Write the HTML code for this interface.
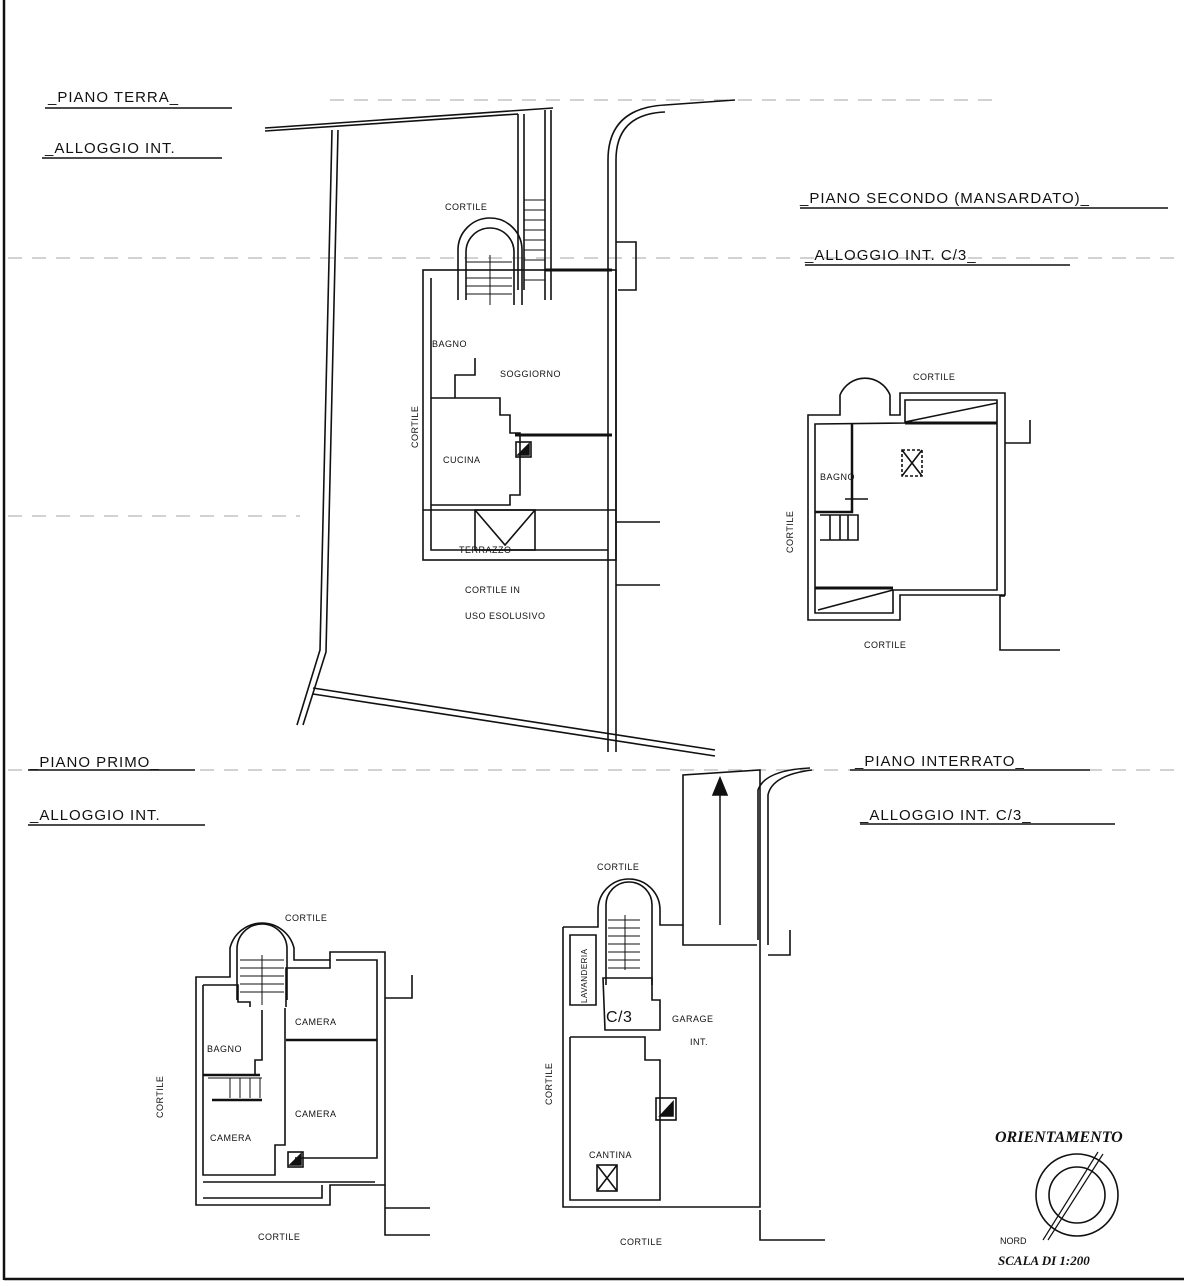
<!DOCTYPE html>
<html><head><meta charset="utf-8"><style>
html,body{margin:0;padding:0;background:#fff;}
svg{display:block;}
text{font-family:"Liberation Sans",sans-serif;fill:#111;}
.t{font-size:15px;letter-spacing:1px;}
.s{font-size:9px;letter-spacing:0.5px;}
.r{font-size:11px;letter-spacing:0.5px;}
</style></head><body>
<svg width="1184" height="1286" viewBox="0 0 1184 1286" xmlns="http://www.w3.org/2000/svg">
<g fill="none" stroke="#111" stroke-width="1.6">
<line x1="4" y1="0" x2="4" y2="1280" stroke-width="2.5"/>
<line x1="4" y1="1279" x2="1184" y2="1279" stroke-width="2.5"/>
<g stroke="#888" stroke-width="0.8" stroke-dasharray="14 10">
<line x1="8" y1="258" x2="1184" y2="258"/>
<line x1="8" y1="516" x2="300" y2="516"/>
<line x1="8" y1="770" x2="1184" y2="770"/>
<line x1="330" y1="100" x2="1000" y2="100"/>
</g>
<line x1="45" y1="108" x2="232" y2="108"/>
<line x1="42" y1="158" x2="222" y2="158"/>
<line x1="800" y1="208" x2="1168" y2="208"/>
<line x1="805" y1="265" x2="1070" y2="265"/>
<line x1="28" y1="770" x2="195" y2="770"/>
<line x1="28" y1="825" x2="205" y2="825"/>
<line x1="850" y1="770" x2="1090" y2="770"/>
<line x1="860" y1="824" x2="1115" y2="824"/>

<path d="M265 128 L553 108"/><path d="M265 131 L518 114"/>
<path d="M332 130 L320 650 L297 725"/><path d="M338 130 L326 652 L303 725"/>
<path d="M313 688 L715 750"/><path d="M313 694 L715 756"/>
<path d="M518 114 L518 290 M524 114 L524 290 M545 110 L545 300 M551 110 L551 300"/>
<path d="M608 752 L608 160 Q608 108 665 105 L735 100"/>
<path d="M616 752 L616 160 Q616 114 665 112"/>
<path d="M616 242 L636 242 L636 290 L618 290"/>
<path d="M616 522 L660 522 M616 585 L660 585"/>
<rect x="423" y="270" width="193" height="290"/>
<path d="M431 278 L431 550 L608 550"/>
<path d="M423 510 L616 510"/>
<path d="M431 398 L500 398 L500 415 L510 415 L510 433 L520 433 L520 495 L510 495 L510 505 L431 505"/>
<path d="M455 398 L455 375 L475 375 L475 358"/>
<path d="M515 435 L612 435" stroke-width="3"/>
<path d="M545 270 L612 270" stroke-width="3"/>
<rect x="475" y="510" width="60" height="40"/>
<path d="M475 510 L505 545 L535 510"/>
<rect x="516" y="442" width="15" height="15"/><path d="M518 455 L529 444 L529 455 Z" fill="#111"/>
<path d="M458 300 L458 250 A32 32 0 0 1 522 250 L522 305 M466 300 L466 252 A24 24 0 0 1 514 252 L514 305"/>
<g stroke-width="1"><path d="M466 262 H512 M466 270 H512 M466 278 H512 M466 286 H512 M466 294 H512 M490 255 V305"/>
<path d="M524 200 H545 M524 210 H545 M524 220 H545 M524 230 H545 M524 240 H545 M524 250 H545 M524 260 H545 M524 270 H545 M524 280 H545"/></g>
<path d="M808 415 L840 415 L840 395 A27 27 0 0 1 890 395 L890 415 L900 415 L900 393 L1005 393 L1005 595 L900 595 L900 620 L808 620 Z"/>
<path d="M815 424 L815 613 L893 613 L893 590 L997 590 L997 400 L905 400 L905 423 Z"/>
<path d="M905 423 L997 423" stroke-width="3"/>
<path d="M905 422 L997 403 M818 610 L893 590"/>
<path d="M815 588 L893 588" stroke-width="3"/>
<path d="M852 423 L852 512 L815 512" stroke-width="2.5"/>
<path d="M845 499 L868 499"/>
<rect x="902" y="450" width="20" height="26" stroke-dasharray="3 2"/><path d="M902 450 L922 476 M922 450 L902 476"/>
<path d="M820 515 H858 V540 H820 M830 515 V540 M840 515 V540 M848 515 V540"/>
<path d="M1005 443 L1030 443 L1030 420 M1005 596 L1000 596 L1000 650 L1060 650"/>
<path d="M196 977 L230 977 L230 948 A33 33 0 0 1 294 948 L294 960 L330 960 L330 952 L385 952 L385 1185 L330 1185 L330 1205 L196 1205 Z"/>
<path d="M203 985 L238 985 L238 1002 L250 1002 L250 1007 M286 1007 L286 968 L330 968 L330 960 M336 960 L377 960 L377 1158 L295 1158 M285 1008 L285 1145 L275 1145 L275 1175 L203 1175 L203 985"/>
<path d="M203 1182 L375 1182 M203 1198 L322 1198 L322 1185"/>
<path d="M286 1040 L377 1040" stroke-width="2.5"/>
<path d="M237 1000 L237 949 A25 25 0 0 1 287 949 L287 1000"/>
<g stroke-width="1"><path d="M240 960 H284 M240 968 H284 M240 976 H284 M240 984 H284 M240 992 H284 M262 955 V1005"/>
<path d="M208 1078 H262 M230 1078 V1098 M240 1078 V1098 M250 1078 V1098 M260 1078 V1098"/></g>
<path d="M203 1075 L260 1075 M212 1100 L262 1100" stroke-width="2.5"/>
<path d="M262 1010 L262 1060 L255 1060 L255 1075"/>
<rect x="288" y="1152" width="15" height="15"/><path d="M290 1165 L301 1154 L301 1165 Z" fill="#111"/>
<path d="M385 998 L412 998 L412 975 M385 1185 L385 1235 L430 1235 M385 1208 L430 1208"/>
<path d="M563 927 L598 927 L598 910 A31 31 0 0 1 660 910 L660 925 L683 925 L683 775 L760 770 L760 940 M563 927 L563 1207 L760 1207 L760 940"/>
<path d="M683 925 L683 945 L757 945"/>
<path d="M606 985 L606 905 A23 23 0 0 1 652 905 L652 985"/>
<g stroke-width="1"><path d="M608 920 H640 M608 928 H640 M608 936 H640 M608 944 H640 M608 952 H640 M608 960 H640 M608 968 H640 M625 915 V970"/></g>
<path d="M570 935 L596 935 L596 1005 L570 1005 Z"/>
<path d="M603 978 L652 978 L652 1000 L660 1000 L660 1030 L605 1030 Z"/>
<path d="M570 1037 L645 1037 L645 1060 L660 1060 L660 1200 L570 1200 L570 1037"/>
<rect x="656" y="1098" width="20" height="22"/><path d="M660 1116 L673 1102 L673 1116 Z" fill="#111"/>
<rect x="597" y="1165" width="20" height="26"/><path d="M597 1165 L617 1191 M617 1165 L597 1191"/>
<path d="M720 925 L720 785" stroke-width="1.5"/><path d="M713 795 L720 778 L727 795 Z" fill="#111"/>
<path d="M758 940 L758 790 Q765 770 810 768 M768 945 L768 795 Q772 775 812 770"/>
<path d="M768 955 L790 955 L790 930 M760 1210 L760 1240 L825 1240"/>
<circle cx="1077" cy="1195" r="41"/><circle cx="1077" cy="1195" r="28"/>
<path d="M1043 1240 L1098 1152 M1048 1240 L1103 1154" stroke-width="1.2"/>
</g>
<g>
<text class="t" x="48" y="102">_PIANO TERRA_</text>
<text class="t" x="45" y="153">_ALLOGGIO INT.</text>
<text class="t" x="800" y="203">_PIANO SECONDO (MANSARDATO)_</text>
<text class="t" x="805" y="260">_ALLOGGIO INT. C/3_</text>
<text class="t" x="30" y="767">_PIANO PRIMO_</text>
<text class="t" x="30" y="820">_ALLOGGIO INT.</text>
<text class="t" x="855" y="766">_PIANO INTERRATO_</text>
<text class="t" x="860" y="820">_ALLOGGIO INT. C/3_</text>
<text class="s" x="445" y="210">CORTILE</text>
<text class="s" x="432" y="347">BAGNO</text>
<text class="s" x="500" y="377">SOGGIORNO</text>
<text class="s" x="443" y="463">CUCINA</text>
<text class="s" x="459" y="553">TERRAZZO</text>
<text class="s" x="465" y="593">CORTILE  IN</text>
<text class="s" x="465" y="619">USO  ESOLUSIVO</text>
<text class="s" transform="translate(418,448) rotate(-90)">CORTILE</text>
<text class="s" x="913" y="380">CORTILE</text>
<text class="s" x="820" y="480">BAGNO</text>
<text class="s" x="864" y="648">CORTILE</text>
<text class="s" transform="translate(793,553) rotate(-90)">CORTILE</text>
<text class="s" x="285" y="921">CORTILE</text>
<text class="s" x="295" y="1025">CAMERA</text>
<text class="s" x="207" y="1052">BAGNO</text>
<text class="s" x="295" y="1117">CAMERA</text>
<text class="s" x="210" y="1141">CAMERA</text>
<text class="s" x="258" y="1240">CORTILE</text>
<text class="s" transform="translate(163,1118) rotate(-90)">CORTILE</text>
<text class="s" x="597" y="870">CORTILE</text>
<text class="r" x="606" y="1022" style="font-size:16px">C/3</text>
<text class="s" x="672" y="1022">GARAGE</text>
<text class="s" x="690" y="1045">INT.</text>
<text class="s" x="589" y="1158">CANTINA</text>
<text class="s" x="620" y="1245">CORTILE</text>
<text class="s" transform="translate(552,1105) rotate(-90)">CORTILE</text>
<text class="s" transform="translate(587,1003) rotate(-90)" style="font-size:8px">LAVANDERIA</text>
<text x="995" y="1142" style="font-family:'Liberation Serif',serif;font-style:italic;font-weight:bold;font-size:16px">ORIENTAMENTO</text>
<text x="1000" y="1244" style="font-size:9px">NORD</text>
<text x="998" y="1265" style="font-family:'Liberation Serif',serif;font-style:italic;font-weight:bold;font-size:13px">SCALA DI 1:200</text>
</g>
</svg>
</body></html>
